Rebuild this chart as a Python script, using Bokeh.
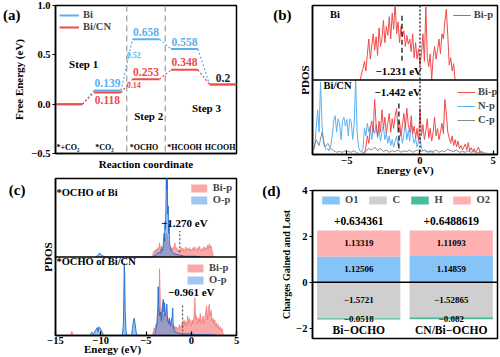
import numpy as np
from bokeh.plotting import figure
from bokeh.layouts import row, column
from bokeh.models import (Legend, LegendItem, Span, FixedTicker, Range1d,
                          FactorRange, LinearAxis)
from bokeh.core.properties import value
from bokeh.embed import file_html
from bokeh.resources import INLINE

FONT = "Liberation Serif"
BLUE = "#5cb0f0"
RED = "#ef4b4b"
GRAY = "#8c8c8c"

# ---------------- (a) free energy diagram ----------------
states = ["*+CO₂", "*CO₂", "*OCHO", "*HCOOH", "HCOOH"]
g_bi = [0.0, 0.139, 0.658, 0.558, 0.2]
g_bicn = [0.0, 0.118, 0.253, 0.348, 0.2]
barrier_bi = "0.52"
barrier_bicn = "0.14"
steps = ["Step 1", "Step 2", "Step 3"]
a_yticks = [-0.5, 0.0, 0.5, 1.0]
a_ylabels = ["−0.5", "0.0", "0.5", "1.0"]

# ---------------- (b) PDOS of Bi and Bi/CN ----------------
b_top_bip = [0.0, 0.08, 0.15, 0.25, 0.12, 0.35, 0.55, 0.28, 0.45, 0.62,
             0.40, 0.58, 0.33, 0.70, 0.45, 0.55, 0.80, 0.50, 0.72, 0.60,
             0.85, 0.55, 0.90, 0.68, 1.05, 0.62, 0.78, 0.50, 0.72, 0.58,
             0.66, 0.45, 0.60, 0.48, 0.55, 0.38, 0.62, 0.30, 0.50, 0.28,
             0.42, 0.20, 0.35, 0.62, 0.25, 0.98, 0.30, 0.18, 0.35, 0.0,
             0.30, 0.45, 0.28, 0.40, 0.55, 0.35, 0.62, 0.55, 0.78, 0.95,
             0.60, 0.20, 0.30, 0.12, 0.22, 0.0]          # E from -4.1 to 2.4
b_top_range = (-4.1, 2.4)
b_bot_np = [0.05, 0.10, 0.35, 0.60, 0.30, 0.97, 0.40, 0.15, 0.10, 0.06,
            0.08, 0.05, 0.12, 0.25, 0.45, 0.52, 0.30, 0.48, 0.42, 0.20,
            0.45, 0.50, 0.38, 0.47, 0.25, 0.48, 0.44, 0.20, 0.40, 1.0,
            0.30, 0.10, 0.05, 0.03, 0.08, 0.35, 0.25, 0.42, 0.30, 0.38,
            0.20, 0.35, 0.28, 0.40, 0.22, 0.35, 0.18, 0.30, 0.38, 0.20,
            0.28, 0.15, 0.25, 0.12, 0.20, 0.10, 0.18, 0.25, 0.12, 0.22,
            0.30, 0.15, 0.28, 0.40, 0.20, 0.32, 0.18, 0.42, 0.25, 0.15,
            0.22, 0.10, 0.18, 0.25, 0.08, 0.05, 0.06, 0.04, 0.05, 0.03,
            0.04, 0.03, 0.02, 0.02]                      # E from -7.3 to 1.0
b_np_range = (-7.3, 1.0)
b_bot_bip = [0.0, 0.10, 0.25, 0.15, 0.35, 0.45, 0.30, 0.74, 0.40, 0.25,
             0.45, 0.30, 0.60, 0.35, 0.50, 0.28, 0.42, 0.55, 0.30, 0.48,
             0.35, 0.52, 0.62, 0.30, 0.45, 0.25, 0.40, 0.55, 0.35, 0.62,
             0.40, 0.30, 0.52, 0.28, 0.38, 0.22, 0.35, 0.18, 0.62, 0.25,
             0.40, 0.20, 0.32, 0.48, 0.22, 0.35, 0.18, 0.30, 0.50, 0.25,
             0.35, 0.20, 0.30, 0.42, 0.28, 0.74, 0.55, 0.30, 0.22, 0.15,
             0.25, 0.12, 0.20, 0.10, 0.18, 0.08, 0.12, 0.06, 0.10, 0.14,
             0.06, 0.16, 0.05, 0.09, 0.04, 0.08, 0.03, 0.06, 0.10, 0.03,
             0.05, 0.02, 0.0]                            # E from -3.8 to 4.4
b_bip_range = (-3.8, 4.4)
b_bot_cp = [0.05, 0.20, 0.12, 0.30, 0.10, 0.15, 0.08, 0.05, 0.03, 0.04,
            0.03, 0.05, 0.04, 0.03, 0.05, 0.02, 0.01, 0.02, 0.05, 0.08,
            0.06, 0.10, 0.05, 0.08, 0.04, 0.06, 0.03, 0.05, 0.04, 0.06,
            0.03, 0.05, 0.04, 0.06, 0.03, 0.05, 0.06, 0.04, 0.06, 0.03,
            0.05, 0.04, 0.06, 0.03, 0.05, 0.04, 0.07, 0.05, 0.04, 0.06,
            0.03, 0.04, 0.03, 0.05, 0.03, 0.04, 0.02, 0.03, 0.02, 0.02,
            0.01, 0.01, 0.01, 0.01]                      # E from -7.3 to 5.3
b_cp_range = (-7.3, 5.3)
dband_bi = -1.231
dband_bicn = -1.442

# ---------------- (c) PDOS of *OCHO ----------------
c_top_bip = [0.0, 0.05, 0.08, 0.06, 0.10, 0.07, 0.12, 0.09, 0.18, 0.10,
             0.14, 0.08, 0.12, 0.15, 0.20, 0.25, 0.30, 0.22, 0.15, 0.10,
             0.13, 0.08, 0.12, 0.09, 0.14, 0.18, 0.10, 0.12, 0.07, 0.10,
             0.06, 0.09, 0.12, 0.08, 0.11, 0.07, 0.10, 0.13, 0.08, 0.11,
             0.09, 0.12, 0.07, 0.10, 0.08, 0.12, 0.09, 0.13, 0.10, 0.08,
             0.12, 0.09, 0.14, 0.10, 0.07, 0.11, 0.09, 0.13, 0.08, 0.12,
             0.10, 0.15, 0.11, 0.17, 0.12, 0.14, 0.08, 0.03, 0.0]  # -4.3..2.5
c_top_bip_range = (-4.3, 2.5)
c_top_op_E = [-10.5, -10.3, -10.1, -9.9, -9.7, -9.5,
              -4.3, -4.0, -3.8, -3.6, -3.4, -3.3, -3.2, -3.1, -3.0,
              -2.95, -2.9, -2.85, -2.8, -2.75, -2.7, -2.65, -2.6, -2.55, -2.5,
              -2.45, -2.4, -2.3, -2.2, -2.1, -2.0, -1.8, -1.6, -1.4, -1.2,
              -1.0, -0.8, -0.5, 0.0, 0.5, 1.0]
c_top_op = [0, 0.03, 0.05, 0.02, 0.01, 0,
            0, 0.02, 0.04, 0.06, 0.05, 0.10, 0.08, 0.15, 0.30,
            0.20, 0.45, 0.35, 0.62, 1.10, 0.85, 1.05, 0.55, 0.65, 0.30,
            0.42, 0.18, 0.12, 0.08, 0.06, 0.05, 0.04, 0.03, 0.03, 0.02,
            0.02, 0.01, 0.01, 0.01, 0.01, 0.0]
c_bot_bip_low_E = [-13.4, -13.2, -13.0]
c_bot_bip_low = [0.0, 0.05, 0.0]
c_bot_bip = [0.0, 0.05, 0.10, 0.07, 0.15, 0.12, 0.22, 0.30, 0.85, 0.40,
             0.25, 0.35, 0.20, 0.28, 0.22, 0.30, 0.18, 0.24, 0.15, 0.20,
             0.12, 0.18, 0.10, 0.14, 0.09, 0.12, 0.08, 0.11, 0.07, 0.10,
             0.14, 0.09, 0.12, 0.16, 0.10, 0.20, 0.13, 0.18, 0.12, 0.25,
             0.15, 0.22, 0.18, 0.12, 0.20, 0.15, 0.25, 0.48, 0.20, 0.25,
             0.15, 0.22, 0.18, 0.28, 0.16, 0.20, 0.25, 0.15, 0.22, 0.30,
             0.38, 0.20, 0.35, 0.40, 0.25, 0.32, 0.18, 0.22, 0.15, 0.20,
             0.12, 0.16, 0.10, 0.14, 0.08, 0.11, 0.06, 0.09, 0.04, 0.0]  # -4.3..3.6
c_bot_bip_range = (-4.3, 3.6)
c_bot_op_E = [-11.2, -11.0, -10.8, -10.6, -10.4, -10.3, -10.2, -10.0, -9.8, -9.6,
              -7.6, -7.5, -7.45, -7.4, -7.35, -7.3, -7.2, -7.1,
              -6.6, -6.5, -6.4, -6.3, -6.2, -6.1, -6.0,
              -4.2, -4.0, -3.9, -3.8, -3.7, -3.65, -3.6, -3.5, -3.4, -3.3,
              -3.2, -3.1, -3.0, -2.95, -2.9, -2.8, -2.7, -2.65, -2.6, -2.5,
              -2.4, -2.3, -2.2, -2.1, -2.05, -2.0, -1.9, -1.8, -1.6, -1.4,
              -1.0, -0.5, 0.0, 0.5, 1.0, 2.0, 3.0]
c_bot_op = [0, 0.04, 0.02, 0.06, 0.10, 0.05, 0.11, 0.08, 0.03, 0,
            0, 0.15, 0.5, 0.92, 0.75, 0.3, 0.05, 0,
            0, 0.08, 0.18, 0.22, 0.15, 0.05, 0,
            0, 0.03, 0.08, 0.15, 0.35, 0.62, 0.40, 0.25, 0.30, 0.18,
            0.35, 0.46, 0.30, 0.42, 0.25, 0.30, 0.40, 0.28, 0.20, 0.15,
            0.22, 0.12, 0.18, 0.25, 0.35, 0.15, 0.08, 0.05, 0.04, 0.03,
            0.02, 0.02, 0.02, 0.01, 0.01, 0.01, 0]
pcenter_bi = -1.270
pcenter_bicn = -0.961

# ---------------- (d) Bader charges ----------------
structs = ["Bi−OCHO", "CN/Bi−OCHO"]
q_O1 = [1.12506, 1.14859]
q_O2 = [1.13319, 1.11093]
q_C = [-1.5721, -1.52865]
q_H = [-0.0518, -0.082]
q_net = ["+0.634361", "+0.6488619"]
d_yticks = [-2, 0, 2, 4]
d_ylabels = ["−2", "0", "2", "4"]


def fmt(v):
    return f"{v:g}".replace("-", "−")


def style(p):
    p.outline_line_color = "black"
    p.outline_line_width = 1.5
    p.outline_line_alpha = 1
    p.grid.visible = False
    p.background_fill_color = "white"
    p.border_fill_color = "white"
    for ax in p.axis:
        ax.axis_line_width = 1.5
        ax.axis_line_color = "black"
        ax.axis_label_text_font = FONT
        ax.axis_label_text_font_style = "bold"
        ax.axis_label_text_font_size = "11px"
        ax.axis_label_text_color = "black"
        ax.major_label_text_font = FONT
        ax.major_label_text_font_style = "bold"
        ax.major_label_text_font_size = "10.5px"
        ax.major_label_text_color = "black"
        ax.minor_tick_line_color = None
        ax.major_tick_line_width = 1.2


def mklegend(items, **kw):
    lg = Legend(items=items, **kw)
    lg.background_fill_alpha = 0
    lg.border_line_alpha = 0
    lg.label_text_font = FONT
    lg.label_text_font_style = "bold"
    lg.label_text_font_size = "10.5px"
    lg.glyph_width = 20
    lg.glyph_height = 10
    lg.label_height = 10
    lg.label_width = 8
    lg.spacing = 1
    lg.padding = 2
    lg.margin = 2
    lg.label_standoff = 4
    return lg


def txt(p, x, y, t, size="11px", color="black", align="center", **kw):
    return p.text(x=x, y=y, text=t, text_font=value(FONT), text_font_style="bold",
                  text_font_size=size, text_color=color, text_align=align,
                  text_baseline="middle", **kw)


def side_text(p, where, pos, t, standoff, size="15px"):
    ax = LinearAxis(ticker=FixedTicker(ticks=[pos]), major_label_overrides={pos: t},
                    axis_line_color=None, major_tick_line_color=None,
                    minor_tick_line_color=None, major_tick_in=0, major_tick_out=0,
                    major_label_standoff=standoff, major_label_text_font=FONT,
                    major_label_text_font_style="bold",
                    major_label_text_font_size=size,
                    major_label_text_color="black")
    p.add_layout(ax, where)


# ================= (a) =================
pa = figure(width=250, height=175, output_backend="svg", toolbar_location=None,
            x_range=Range1d(-0.35, 4.35), y_range=Range1d(-0.5, 1.0),
            min_border_left=55, min_border_right=14, min_border_top=5,
            min_border_bottom=22)
style(pa)
xs = np.arange(len(states))
hw = 0.35
gb = np.array(g_bi)
gr = np.array(g_bicn)
for mid in (xs[1:3] + 0.5):
    pa.add_layout(Span(location=mid, dimension="height", line_color="#9a9a9a",
                       line_dash="6 4", line_width=1.2))
r_bi = pa.segment(xs - hw, gb, xs + hw, gb, line_color=BLUE, line_width=2)
pa.segment(xs[:-1] + hw, gb[:-1], xs[1:] - hw, gb[1:], line_color=BLUE,
           line_width=1.2, line_dash="2 2")
r_cn = pa.segment(xs - hw, gr, xs + hw, gr, line_color=RED, line_width=2)
pa.segment(xs[:-1] + hw, gr[:-1], xs[1:] - hw, gr[1:], line_color=RED,
           line_width=1.2, line_dash="2 2")
txt(pa, xs[1:4], gb[1:4] + 0.075, [fmt(v) for v in gb[1:4]], size="11.5px", color=BLUE)
txt(pa, xs[1:2], gr[1:2] - 0.075, [fmt(v) for v in gr[1:2]], size="11.5px", color=RED)
txt(pa, xs[2:4], gr[2:4] + 0.075, [fmt(v) for v in gr[2:4]], size="11.5px", color=RED)
txt(pa, xs[4:5], gr[4:5] + 0.065, [fmt(v) for v in gr[4:5]], size="11.5px", color="#222222")
txt(pa, [xs[1] + 0.68], [0.50], [barrier_bi], size="8px", color=BLUE)
txt(pa, [xs[1] + 0.68], [0.19], [barrier_bicn], size="8px", color=RED)
txt(pa, [0.38, 2.07, 3.57], [0.41, -0.12, -0.04], steps, size="11px")
txt(pa, xs, np.full(len(xs), -0.44), states, size="8px",
    x_offset=[-1, -3, -2, 0, -3])
pa.xaxis.ticker = FixedTicker(ticks=[])
pa.xaxis.axis_label = "Reaction coordinate"
pa.xaxis.axis_label_standoff = 4
pa.yaxis.ticker = FixedTicker(ticks=a_yticks)
pa.yaxis.major_label_overrides = dict(zip(a_yticks, a_ylabels))
pa.yaxis.major_tick_in = 0
pa.yaxis.major_tick_out = 3
pa.yaxis.major_label_standoff = 2
pa.yaxis.axis_label = "Free Energy (eV)"
pa.yaxis.axis_label_standoff = 3
pa.add_layout(mklegend([LegendItem(label="Bi", renderers=[r_bi]),
                        LegendItem(label="Bi/CN", renderers=[r_cn])],
                       location="top_left"))
side_text(pa, "left", 0.9, "(a)", -10)

# ================= (b) =================
pb = figure(width=250, height=178, output_backend="svg", toolbar_location=None,
            x_range=Range1d(-7.35, 5.3), y_range=Range1d(0, 2),
            min_border_left=52, min_border_right=3, min_border_top=5,
            min_border_bottom=24)
style(pb)
E_bt = np.linspace(*b_top_range, len(b_top_bip))
E_np = np.linspace(*b_np_range, len(b_bot_np))
E_bb = np.linspace(*b_bip_range, len(b_bot_bip))
E_cp = np.linspace(*b_cp_range, len(b_bot_cp))
r_bt = pb.line(E_bt, 1 + np.array(b_top_bip), line_color=RED, line_width=1)
r_np = pb.line(E_np, np.array(b_bot_np), line_color=BLUE, line_width=1)
r_bb = pb.line(E_bb, np.array(b_bot_bip), line_color=RED, line_width=1)
r_cp = pb.line(E_cp, np.array(b_bot_cp), line_color=GRAY, line_width=1)
pb.add_layout(Span(location=1, dimension="width", line_color="black", line_width=1.5))
pb.add_layout(Span(location=0, dimension="height", line_color="black",
                   line_width=1.2, line_dash="2 2"))
pb.segment([dband_bi, dband_bicn], [1.26, 0.08], [dband_bi, dband_bicn], [1.89, 0.72],
           line_color="black", line_width=1.2, line_dash="5 3")
txt(pb, [dband_bi - 0.22, dband_bicn - 0.08], [1.12, 0.84],
    [fmt(dband_bi) + " eV", fmt(dband_bicn) + " eV"], size="11px")
txt(pb, [-6.15], [1.88], ["Bi"], size="10.5px", align="left")
txt(pb, [-6.6], [0.93], ["Bi/CN"], size="10.5px", align="left")
pb.xaxis.ticker = FixedTicker(ticks=[-5, 0, 5])
pb.xaxis.major_label_overrides = {-5: "−5", 0: "0", 5: "5"}
pb.xaxis.major_tick_in = 4
pb.xaxis.major_tick_out = 0
pb.xaxis.major_label_standoff = 2
pb.xaxis.axis_label = "Energy (eV)"
pb.xaxis.axis_label_standoff = -3
pb.yaxis.ticker = FixedTicker(ticks=[])
pb.yaxis.major_label_standoff = 0
pb.yaxis.axis_label = "PDOS"
pb.yaxis.axis_label_standoff = 2
lg_bt = mklegend([LegendItem(label="Bi-p", renderers=[r_bt])], location="top_right")
lg_bt.glyph_width = 18
lg_bt.label_standoff = 3
pb.add_layout(lg_bt)
lg_bb = mklegend([LegendItem(label="Bi-p", renderers=[r_bb]),
                  LegendItem(label="N-p", renderers=[r_np]),
                  LegendItem(label="C-p", renderers=[r_cp])],
                 location=(143, 27))
lg_bb.glyph_width = 18
lg_bb.label_standoff = 3
lg_bb.spacing = 3
pb.add_layout(lg_bb)
side_text(pb, "left", 1.87, "(b)", 4)

# ================= (c) =================
pc = figure(width=250, height=182, output_backend="svg", toolbar_location=None,
            x_range=Range1d(-15, 5), y_range=Range1d(0, 2),
            min_border_left=47, min_border_right=7, min_border_top=3,
            min_border_bottom=20)
style(pc)
REDF = "#f26060"
BLUEF = "#3d8fe0"
BLUEL = "#1c6ad0"
E_ct = np.linspace(*c_top_bip_range, len(c_top_bip))
E_cb = np.concatenate([c_bot_bip_low_E, np.linspace(*c_bot_bip_range, len(c_bot_bip))])
v_cb = np.concatenate([c_bot_bip_low, c_bot_bip])
r_ctb = pc.varea(x=E_ct, y1=1, y2=1 + np.array(c_top_bip), fill_color=REDF, fill_alpha=0.55)
pc.line(E_ct, 1 + np.array(c_top_bip), line_color=REDF, line_width=0.7, line_alpha=0.8)
r_cto = pc.varea(x=c_top_op_E, y1=1, y2=1 + np.array(c_top_op), fill_color=BLUEF, fill_alpha=0.5)
pc.line(c_top_op_E, 1 + np.array(c_top_op), line_color=BLUEL, line_width=0.9)
r_cbb = pc.varea(x=E_cb, y1=0, y2=v_cb, fill_color=REDF, fill_alpha=0.55)
pc.line(E_cb, v_cb, line_color=REDF, line_width=0.7, line_alpha=0.8)
r_cbo = pc.varea(x=c_bot_op_E, y1=0, y2=np.array(c_bot_op), fill_color=BLUEF, fill_alpha=0.5)
pc.line(c_bot_op_E, np.array(c_bot_op), line_color=BLUEL, line_width=0.9)
pc.add_layout(Span(location=1, dimension="width", line_color="black", line_width=1.5))
pc.segment([pcenter_bi, pcenter_bicn], [1.06, 0.0], [pcenter_bi, pcenter_bicn], [1.33, 0.40],
           line_color="#555555", line_width=1.2, line_dash="2 2")
txt(pc, [pcenter_bi + 0.5, pcenter_bicn + 0.96], [1.43, 0.55],
    [fmt(pcenter_bi) + "0 eV", fmt(pcenter_bicn) + " eV"], size="11px")
txt(pc, [-14.9], [1.82], ["*OCHO of Bi"], size="10.5px", align="left")
txt(pc, [-14.9], [0.94], ["*OCHO of Bi/CN"], size="10.5px", align="left")
pc.xaxis.ticker = FixedTicker(ticks=[-15, -10, -5, 0, 5])
pc.xaxis.major_label_overrides = {-15: "−15", -10: "−10", -5: "−5", 0: "0", 5: "5"}
pc.xaxis.major_tick_in = 4
pc.xaxis.major_tick_out = 0
pc.xaxis.major_label_standoff = 1
pc.yaxis.ticker = FixedTicker(ticks=[])
pc.yaxis.major_label_standoff = 0
pc.yaxis.axis_label = "PDOS"
pc.yaxis.axis_label_standoff = 2
pc.add_layout(mklegend([LegendItem(label="Bi-p", renderers=[r_ctb]),
                        LegendItem(label="O-p", renderers=[r_cto])],
                       location="top_right"))
pc.add_layout(mklegend([LegendItem(label="Bi-p", renderers=[r_cbb]),
                        LegendItem(label="O-p", renderers=[r_cbo])],
                       location=(128, 48)))
side_text(pc, "below", -8.7, "Energy (eV)", -4, size="11px")
side_text(pc, "left", 1.85, "(c)", 13)

# ================= (d) =================
pd_ = figure(width=250, height=179, output_backend="svg", toolbar_location=None,
             x_range=FactorRange(factors=structs), y_range=Range1d(-2.45, 4),
             min_border_left=62, min_border_right=3, min_border_top=12,
             min_border_bottom=19)
style(pd_)
o1 = np.array(q_O1)
o2 = np.array(q_O2)
cc = np.array(q_C)
hh = np.array(q_H)
r_o1 = pd_.vbar(x=structs, bottom=0, top=o1, width=0.9, fill_color="#86c4f7", line_color=None)
r_o2 = pd_.vbar(x=structs, bottom=o1, top=o1 + o2, width=0.9, fill_color="#ffb0b0", line_color=None)
r_c = pd_.vbar(x=structs, bottom=cc, top=0, width=0.9, fill_color="#cfcfcf", line_color=None)
r_h = pd_.vbar(x=structs, bottom=cc + hh, top=cc, width=0.9, fill_color="#45bc9c", line_color=None)
pd_.add_layout(Span(location=0, dimension="width", line_color="black", line_width=1.5))
txt(pd_, structs, o1 / 2, [fmt(v) for v in o1], size="9px")
txt(pd_, structs, o1 + o2 / 2, [fmt(v) for v in o2], size="9px")
txt(pd_, structs, cc / 2, [fmt(v) for v in cc], size="9px")
txt(pd_, structs, cc + hh / 2 - 0.02, [fmt(v) for v in hh], size="9px")
txt(pd_, structs, [2.65, 2.65], q_net, size="11.5px")
txt(pd_, structs, [-2.1, -2.1], structs, size="11.5px")
pd_.xaxis.visible = False
pd_.yaxis.ticker = FixedTicker(ticks=d_yticks)
pd_.yaxis.major_label_overrides = dict(zip(d_yticks, d_ylabels))
pd_.yaxis.major_tick_in = 0
pd_.yaxis.major_tick_out = 3
pd_.yaxis.major_label_standoff = 2
pd_.yaxis.axis_label = "Charges Gained and Lost"
pd_.yaxis.axis_label_text_font_size = "10px"
pd_.yaxis.axis_label_standoff = 1
lg_d = mklegend([LegendItem(label="O1", renderers=[r_o1]),
                 LegendItem(label="C", renderers=[r_c]),
                 LegendItem(label="H", renderers=[r_h]),
                 LegendItem(label="O2", renderers=[r_o2])],
                location="top_center", orientation="horizontal")
lg_d.glyph_width = 22
lg_d.spacing = 8
pd_.add_layout(lg_d)
side_text(pd_, "left", 3.97, "(d)", -2)

layout = row(column(pa, pc), column(pb, pd_))
open("out.html", "w").write(file_html(layout, INLINE))
